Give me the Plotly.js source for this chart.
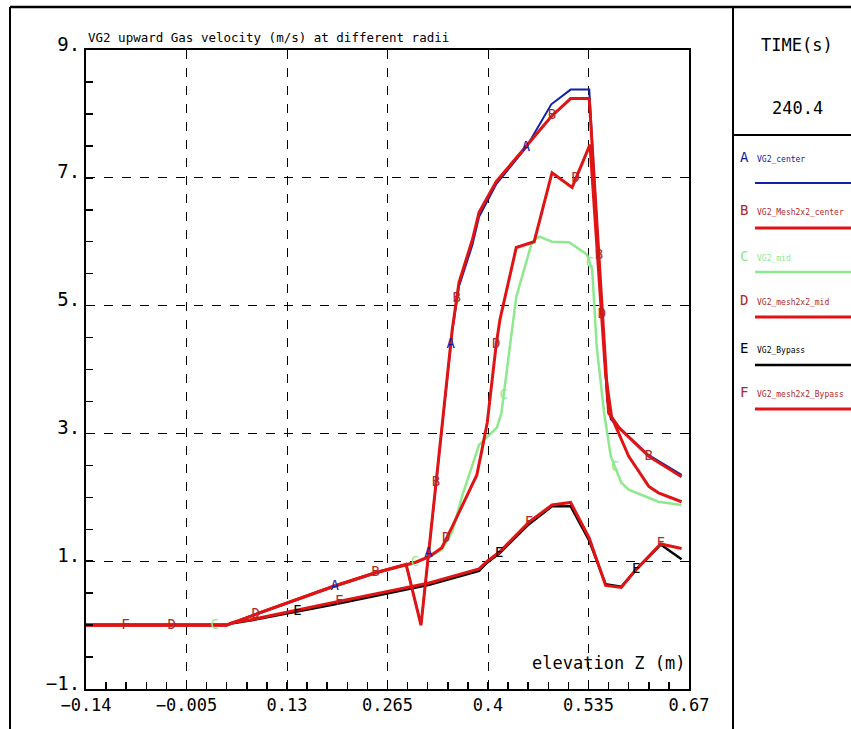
<!DOCTYPE html>
<html><head><meta charset="utf-8">
<script src="https://cdn.plot.ly/plotly-3.0.1.min.js"></script>
<style>html,body{margin:0;padding:0;background:#fff}#chart{width:851px;height:729px}</style>
</head><body><div id="chart"></div>
<script>
// ---- data ----
const xTickVals = [-0.14, -0.005, 0.13, 0.265, 0.4, 0.535, 0.67];
const xTickText = ["\u22120.14", "\u22120.005", "0.13", "0.265", "0.4", "0.535", "0.67"];
const yTickVals = [-1, 1, 3, 5, 7, 9];
const yTickText = ["\u22121.", "1.", "3.", "5.", "7.", "9."];

const seriesNames = ["VG2_center", "VG2_Mesh2x2_center", "VG2_mid", "VG2_mesh2x2_mid", "VG2_Bypass", "VG2_mesh2x2_Bypass"];
const seriesLetters = ["A", "B", "C", "D", "E", "F"];

const A_x = [-0.14, 0.049, 0.093, 0.191, 0.249, 0.288, 0.290, 0.310, 0.337, 0.352, 0.361, 0.379, 0.388, 0.411, 0.451, 0.485, 0.511, 0.536, 0.553, 0.560, 0.565, 0.576, 0.616, 0.660];
const A_y = [0, 0, 0.19, 0.60, 0.82, 0.94, 0.95, 0.00, 3.01, 4.60, 5.30, 5.95, 6.39, 6.90, 7.47, 8.15, 8.38, 8.38, 4.89, 3.53, 3.22, 3.09, 2.66, 2.35];

const B_x = [-0.14, 0.049, 0.093, 0.191, 0.249, 0.288, 0.290, 0.310, 0.337, 0.352, 0.361, 0.379, 0.388, 0.411, 0.451, 0.485, 0.511, 0.536, 0.562, 0.576, 0.616, 0.660];
const B_y = [0, 0, 0.19, 0.60, 0.82, 0.94, 0.95, 0.00, 3.01, 4.63, 5.36, 6.03, 6.46, 6.94, 7.49, 7.96, 8.24, 8.24, 3.32, 3.09, 2.64, 2.32];

const C_x = [-0.14, 0.049, 0.093, 0.191, 0.249, 0.288, 0.302, 0.321, 0.338, 0.352, 0.365, 0.388, 0.412, 0.418, 0.432, 0.438, 0.459, 0.469, 0.486, 0.509, 0.533, 0.540, 0.546, 0.556, 0.565, 0.579, 0.589, 0.629, 0.660];
const C_y = [0, 0, 0.19, 0.60, 0.82, 0.94, 0.98, 1.07, 1.18, 1.46, 2.01, 2.82, 3.09, 3.32, 4.63, 5.14, 5.99, 6.08, 6.00, 5.99, 5.80, 5.56, 4.36, 3.32, 2.64, 2.23, 2.12, 1.93, 1.88];

const D_x = [-0.14, 0.049, 0.093, 0.191, 0.249, 0.288, 0.302, 0.321, 0.338, 0.352, 0.371, 0.385, 0.392, 0.399, 0.411, 0.416, 0.438, 0.462, 0.486, 0.513, 0.537, 0.552, 0.558, 0.566, 0.589, 0.616, 0.629, 0.660];
const D_y = [0, 0, 0.19, 0.60, 0.82, 0.94, 0.98, 1.07, 1.21, 1.54, 2.01, 2.35, 2.75, 3.17, 4.39, 4.78, 5.91, 6.00, 7.08, 6.85, 7.52, 5.04, 3.92, 3.26, 2.64, 2.17, 2.07, 1.93];

const E_x = [-0.14, 0.049, 0.057, 0.080, 0.191, 0.321, 0.388, 0.399, 0.415, 0.455, 0.486, 0.511, 0.536, 0.558, 0.579, 0.599, 0.632, 0.660];
const E_y = [0, 0, 0.03, 0.07, 0.32, 0.63, 0.85, 0.98, 1.12, 1.58, 1.86, 1.86, 1.32, 0.64, 0.60, 0.87, 1.26, 1.03];

const F_x = [-0.14, 0.049, 0.057, 0.080, 0.191, 0.321, 0.388, 0.399, 0.415, 0.455, 0.486, 0.511, 0.536, 0.558, 0.579, 0.599, 0.632, 0.660];
const F_y = [0, 0, 0.04, 0.08, 0.35, 0.66, 0.88, 1.00, 1.14, 1.61, 1.88, 1.92, 1.36, 0.62, 0.59, 0.87, 1.27, 1.20];

// x positions of the letter labels on each curve
const A_lab = [0.194, 0.320, 0.350, 0.451];
const B_lab = [0.249, 0.330, 0.358, 0.486, 0.549, 0.616];
const C_lab = [0.033, 0.302, 0.421, 0.537, 0.571];
const D_lab = [-0.025, 0.088, 0.344, 0.411, 0.518, 0.553];
const E_lab = [0.144, 0.415, 0.599];
const F_lab = [-0.087, 0.200, 0.455, 0.632];

const timeValue = "240.4";

// ---- styles ----
const lineColors = ["#1020a8", "#e01414", "#8ee88e", "#e01414", "#000000", "#e01414"];
const labelColors = ["#1020a8", "#b02828", "#8ee88e", "#b02828", "#000000", "#b02828"];
const lineWidths = [2, 3, 2.5, 3, 2.5, 3];
const MONO = "DejaVu Sans Mono, Liberation Mono, monospace";

const XS = [A_x, B_x, C_x, D_x, E_x, F_x];
const YS = [A_y, B_y, C_y, D_y, E_y, F_y];
const LABS = [A_lab, B_lab, C_lab, D_lab, E_lab, F_lab];

function interp(xs, ys, x) {
  for (let i = 0; i < xs.length - 1; i++) {
    if (x >= xs[i] && x <= xs[i + 1]) {
      const t = (x - xs[i]) / (xs[i + 1] - xs[i] || 1);
      return ys[i] + t * (ys[i + 1] - ys[i]);
    }
  }
  return ys[ys.length - 1];
}

const order = [0, 2, 4, 1, 3, 5];
const traces = [];
order.forEach(i => {
  traces.push({
    type: "scatter", mode: "lines", x: XS[i], y: YS[i], name: seriesNames[i],
    line: {color: lineColors[i], width: lineWidths[i]}, showlegend: false, hoverinfo: "skip"
  });
});
order.forEach(i => {
  traces.push({
    type: "scatter", mode: "text", x: LABS[i], y: LABS[i].map(v => interp(XS[i], YS[i], v)),
    text: LABS[i].map(() => seriesLetters[i]), textposition: "middle center",
    textfont: {family: MONO, size: 14, color: labelColors[i]}, showlegend: false, hoverinfo: "skip"
  });
});

// pixel -> paper helpers (plot area: x 86..689, y 50..689)
const L = 86, R = 689, T = 50, B = 689;
const px = v => (v - L) / (R - L);
const py = v => (B - v) / (B - T);

const shapes = [
  {type: "line", xref: "paper", yref: "paper", x0: px(10), x1: px(851), y0: py(7), y1: py(7), line: {color: "#000", width: 2.5}},
  {type: "line", xref: "paper", yref: "paper", x0: px(10), x1: px(10), y0: py(7), y1: py(729), line: {color: "#000", width: 2}},
  {type: "line", xref: "paper", yref: "paper", x0: px(733), x1: px(733), y0: py(7), y1: py(729), line: {color: "#000", width: 2}},
  {type: "line", xref: "paper", yref: "paper", x0: px(733), x1: px(851), y0: py(135), y1: py(135), line: {color: "#000", width: 2}}
];
const annotations = [
  {xref: "paper", yref: "paper", x: px(797), y: py(45), text: "TIME(s)", showarrow: false, xanchor: "center", yanchor: "middle", font: {family: MONO, size: 17, color: "#000"}},
  {xref: "paper", yref: "paper", x: px(797), y: py(108), text: timeValue, showarrow: false, xanchor: "center", yanchor: "middle", font: {family: MONO, size: 17, color: "#000"}},
  {xref: "paper", yref: "paper", x: px(688), y: py(663), text: "elevation Z (m)", showarrow: false, xanchor: "right", yanchor: "middle", font: {family: MONO, size: 17, color: "#000"}}
];
const legLetterY = [157, 210, 256, 300, 348, 392];
const legLineY = [183, 228, 272, 317, 365, 409];
for (let i = 0; i < 6; i++) {
  annotations.push({xref: "paper", yref: "paper", x: px(738), y: py(legLetterY[i]), text: seriesLetters[i], showarrow: false, xanchor: "left", yanchor: "middle", font: {family: MONO, size: 14, color: labelColors[i]}});
  annotations.push({xref: "paper", yref: "paper", x: px(755), y: py(legLetterY[i] + 2), text: seriesNames[i], showarrow: false, xanchor: "left", yanchor: "middle", font: {family: MONO, size: 8, color: labelColors[i]}});
  shapes.push({type: "line", xref: "paper", yref: "paper", x0: px(755), x1: px(851), y0: py(legLineY[i]), y1: py(legLineY[i]), line: {color: lineColors[i], width: lineWidths[i]}});
}

const layout = {
  width: 851, height: 729,
  margin: {l: L, r: 851 - R, t: T, b: 729 - B, pad: 0},
  paper_bgcolor: "#fff", plot_bgcolor: "#fff",
  showlegend: false,
  title: {text: "VG2 upward Gas velocity (m/s) at different radii", x: px(88), xref: "paper", xanchor: "left",
          y: 1 - 38 / 729, yref: "container", yanchor: "middle", font: {family: MONO, size: 12.5, color: "#000"}},
  xaxis: {
    range: [-0.14, 0.67], tickvals: xTickVals, ticktext: xTickText,
    showline: true, linecolor: "#000", linewidth: 2, mirror: true,
    ticks: "inside", ticklen: 7, tickwidth: 1.5, tickcolor: "#000",
    showgrid: true, gridcolor: "#000", gridwidth: 1, griddash: "dash", zeroline: false,
    tickfont: {family: MONO, size: 17, color: "#000"},
    minor: {ticks: "inside", ticklen: 7, tickwidth: 1.5, tickcolor: "#000", tick0: -0.14, dtick: 0.027, showgrid: false}
  },
  yaxis: {
    range: [-1, 9], tickvals: yTickVals, ticktext: yTickText,
    showline: true, linecolor: "#000", linewidth: 2, mirror: true,
    ticks: "inside", ticklen: 7, tickwidth: 1.5, tickcolor: "#000",
    showgrid: true, gridcolor: "#000", gridwidth: 1, griddash: "dash", zeroline: false,
    tickfont: {family: MONO, size: 19, color: "#000"}, ticklabelshift: -6,
    minor: {ticks: "inside", ticklen: 7, tickwidth: 1.5, tickcolor: "#000", tick0: -1, dtick: 0.5, showgrid: false}
  },
  shapes: shapes, annotations: annotations
};

Plotly.newPlot("chart", traces, layout, {displayModeBar: false, staticPlot: true});
</script>
</body></html>
